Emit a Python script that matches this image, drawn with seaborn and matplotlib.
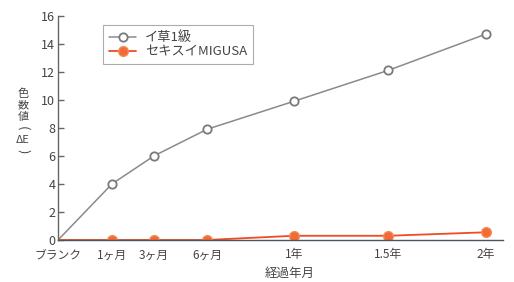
import numpy as np
import pandas as pd
import seaborn as sns
import matplotlib.pyplot as plt

# data
periods = ["ブランク", "1ヶ月", "3ヶ月", "6ヶ月", "1年", "1.5年", "2年"]
period_pos = [0, 1.26, 2.24, 3.48, 5.51, 7.71, 10.0]   # spacing of the x axis in the original
igusa = [0, 4.0, 6.0, 7.9, 9.9, 12.1, 14.7]
migusa = [0, 0.0, 0.0, 0.0, 0.3, 0.3, 0.55]
y_ticks = [0, 2, 4, 6, 8, 10, 12, 14, 16]
ylabel_chars = ["色", "数", "値", "(", "ΔE", ")"]

df = pd.DataFrame({"pos": period_pos, "igusa": igusa, "migusa": migusa})

sns.set_theme(style="white")
plt.rcParams["font.family"] = ["Noto Sans CJK JP", "DejaVu Sans"]

W, H = 514, 282
fig = plt.figure(figsize=(W / 100, H / 100), dpi=100)
ax = fig.add_axes([0.113, 0.149, 0.866, 0.795])

sns.lineplot(data=df, x="pos", y="igusa", ax=ax, color="#8a8a8a", lw=1.1,
             marker="o", markersize=6, markerfacecolor="white",
             markeredgecolor="#7a7a7a", markeredgewidth=1.3,
             markevery=list(range(1, 7)), label="イ草1級")
sns.lineplot(data=df, x="pos", y="migusa", ax=ax, color="#ee4b23", lw=1.3,
             marker="o", markersize=7, markerfacecolor="#f26a36",
             markeredgecolor="#f58a5a", markeredgewidth=1.0,
             markevery=list(range(1, 7)), label="セキスイMIGUSA")

ax.set_xlim(0, 10.4)
ax.set_ylim(0, 16)
ax.set_xticks(period_pos)
ax.set_xticklabels(periods)
ax.set_yticks(y_ticks)
ax.set_xlabel("")
ax.set_ylabel("")

sns.despine(ax=ax)
ax.spines["left"].set_color("#666666")
ax.spines["left"].set_linewidth(1.0)
ax.spines["bottom"].set_color("#4a5560")
ax.spines["bottom"].set_linewidth(1.0)
ax.tick_params(axis="y", direction="in", length=4, width=1, color="#666666",
               labelsize=9, labelcolor="#444444", pad=2, left=True)
ax.tick_params(axis="x", length=0, labelsize=8.5, labelcolor="#444444", pad=6)

leg = ax.legend(loc="upper left", bbox_to_anchor=(0.102, 0.958), fontsize=9.5,
                frameon=True, fancybox=False, edgecolor="#999999",
                handlelength=2.0, borderpad=0.45, labelspacing=0.1,
                handletextpad=0.7, borderaxespad=0)
leg.get_frame().set_linewidth(0.8)
for t in leg.get_texts():
    t.set_color("#444444")

# stacked vertical y label, brackets turned to sit vertically
for i, ch in enumerate(ylabel_chars):
    rot = -90 if ch in "()" else 0
    fs = 9.5 if ch in "()" else 8
    fig.text(23 / W, 1 - (94 + 11.5 * i) / H, ch, ha="center", va="center",
             fontsize=fs, color="#444444", rotation=rot)
fig.text(290 / W, 1 - 273 / H, "経過年月", ha="center", va="center",
         fontsize=9, color="#444444")

fig.savefig("out.png", dpi=100)
